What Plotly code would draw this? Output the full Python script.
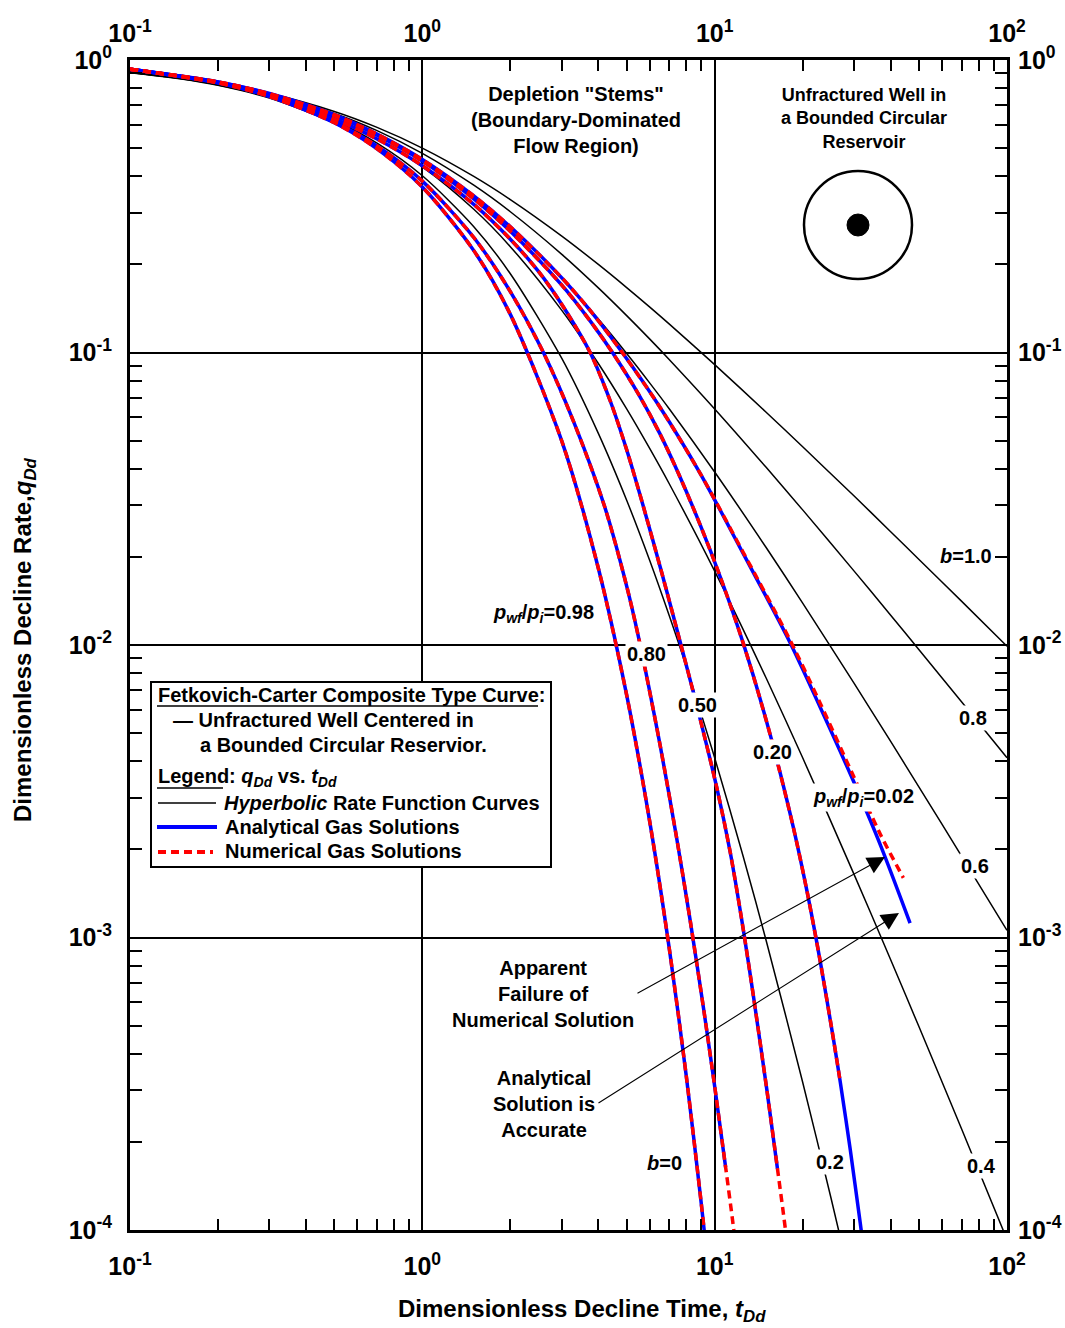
import plotly.graph_objects as go

# ---------------- data ----------------
# Hyperbolic (Arps) rate function curves, b = 0 ... 1.0
t_b00 = [0.1, 0.15, 0.2, 0.3, 0.5, 0.7, 1, 1.5, 2, 3, 4, 5, 6, 7, 8, 9, 9.5]
q_b00 = [0.905, 0.861, 0.819, 0.741, 0.607, 0.497, 0.368, 0.223, 0.135, 0.0498, 0.0183,
         0.00674, 0.00248, 0.000912, 0.000335, 0.000123, 0.0000749]

t_b02 = [0.1, 0.15, 0.2, 0.3, 0.5, 0.7, 1, 1.5, 2, 3, 4, 5, 6, 7, 8, 10, 12.5, 15, 20, 25, 30]
q_b02 = [0.9057, 0.8626, 0.8219, 0.7473, 0.6209, 0.5194, 0.4019, 0.2693, 0.1859, 0.0954,
         0.0529, 0.03125, 0.01941, 0.01256, 0.00843, 0.004115, 0.001904, 0.000977, 0.00032,
         0.0001286, 0.0000595]

t_hyp = [0.1, 0.15, 0.2, 0.3, 0.5, 0.7, 1, 1.5, 2, 3, 4, 5, 6, 7, 10, 15, 20, 30, 40, 50, 70, 100]
q_b04 = [0.9066, 0.8644, 0.8250, 0.7533, 0.6339, 0.5395, 0.4312, 0.3088, 0.2301, 0.1393, 0.0917,
         0.06415, 0.0469, 0.03552, 0.01789, 0.00771, 0.004115, 0.001641, 0.000839, 0.000495,
         0.000221, 0.0000928]
q_b06 = [0.9075, 0.8662, 0.8279, 0.7589, 0.6458, 0.5574, 0.4569, 0.3431, 0.2687, 0.1798, 0.1301,
         0.0992, 0.0786, 0.0641, 0.03904, 0.02154, 0.01391, 0.00739, 0.00468, 0.003269,
         0.001895, 0.001058]
q_b08 = [0.9083, 0.8679, 0.8307, 0.7642, 0.6567, 0.5736, 0.4796, 0.3732, 0.3029, 0.2166, 0.1663,
         0.1337, 0.1111, 0.09453, 0.06415, 0.04050, 0.02897, 0.01789, 0.01264, 0.009634,
         0.006384, 0.004115]
q_b10 = [0.9091, 0.8696, 0.8333, 0.7692, 0.6667, 0.5882, 0.5, 0.4, 0.3333, 0.25, 0.2, 0.1667,
         0.1429, 0.125, 0.0909, 0.0625, 0.0476, 0.0323, 0.0244, 0.0196, 0.0141, 0.0099]

# Gas solutions, pwf/pi = 0.98, 0.80, 0.50, 0.20, 0.02 (analytical = blue, numerical = red)
t_a098 = [0.1, 0.2, 0.3, 0.5, 0.7, 1, 1.5, 2, 3, 4, 5, 6, 7, 8, 9, 9.5]
q_a098 = [0.93, 0.835, 0.75, 0.61, 0.497, 0.368, 0.223, 0.135, 0.0498, 0.0183, 0.00674,
          0.00248, 0.000912, 0.000335, 0.000123, 0.0000749]
t_n098 = t_a098
q_n098 = q_a098

t_a080 = [0.1, 0.2, 0.3, 0.5, 0.7, 1, 1.5, 2, 2.6, 3.3, 4.2, 5, 5.5, 6.5, 7.4, 8.25, 9.2, 10, 10.9]
q_a080 = [0.93, 0.836, 0.752, 0.614, 0.508, 0.3855, 0.2472, 0.1615, 0.0996, 0.0577, 0.0298,
          0.0159, 0.01054, 0.00457, 0.00221, 0.00114, 0.000556, 0.00031, 0.000164]
t_n080 = t_a080 + [11.5, 11.8]
q_n080 = q_a080 + [0.000109, 0.0000887]

t_a050 = [0.1, 0.2, 0.3, 0.5, 0.7, 1, 1.5, 2, 2.5, 3, 3.75, 4.4, 5, 5.7, 6.6, 7.63, 8.72, 10.2,
          11.3, 12.5, 13.6, 15.1, 16.4]
q_a050 = [0.93, 0.838, 0.757, 0.628, 0.537, 0.435, 0.321, 0.244, 0.189, 0.146, 0.1, 0.068,
          0.0465, 0.0298, 0.01758, 0.0102, 0.00611, 0.00321, 0.00196, 0.00108, 0.000621,
          0.000299, 0.000162]
t_n050 = t_a050 + [17.2, 17.8]
q_n050 = q_a050 + [0.000113, 0.0000863]

t_a020 = [0.1, 0.2, 0.3, 0.5, 0.7, 1, 1.5, 2, 3, 3.755, 4.47, 5.5, 6.5, 7.5, 8.93, 10.5, 12.6,
          15.5, 18.6, 20.75, 23, 25.5, 26.9, 29.1, 31.5, 32.5]
q_a020 = [0.93, 0.841, 0.765, 0.645, 0.553, 0.451, 0.335, 0.2595, 0.170, 0.128, 0.1, 0.0718,
          0.0527, 0.0388, 0.0257, 0.01688, 0.00995, 0.00492, 0.00237, 0.00142, 0.000822,
          0.000448, 0.00032, 0.000188, 0.000105, 0.000083]
t_n020 = t_a020[:23]
q_n020 = q_a020[:23]

t_a002 = [0.1, 0.2, 0.3, 0.5, 0.7, 1, 1.5, 2, 3, 3.755, 4.83, 6.5, 8.91, 12.5, 18.1, 23, 29.7,
          36.9, 46.6]
q_a002 = [0.93, 0.842, 0.768, 0.65, 0.558, 0.457, 0.343, 0.269, 0.18, 0.139, 0.1, 0.065, 0.0387,
          0.0206, 0.0102, 0.0061, 0.00346, 0.00207, 0.00112]
t_n002 = [0.1, 0.2, 0.3, 0.5, 0.7, 1, 1.5, 2, 3, 3.755, 4.83, 6.5, 8.91, 12.5, 18.1, 23, 29.7,
          36.9, 44.2]
q_n002 = [0.93, 0.842, 0.768, 0.65, 0.558, 0.457, 0.343, 0.269, 0.18, 0.139, 0.1, 0.065, 0.0387,
          0.0208, 0.0104, 0.0063, 0.0036, 0.00225, 0.0016]

x_ticks = [0.1, 1, 10, 100]
x_ticktext = ["10<sup>-1</sup>", "10<sup>0</sup>", "10<sup>1</sup>", "10<sup>2</sup>"]
y_ticks = [1e-4, 1e-3, 1e-2, 1e-1, 1]
y_ticktext = ["10<sup>-4</sup>", "10<sup>-3</sup>", "10<sup>-2</sup>", "10<sup>-1</sup>", "10<sup>0</sup>"]
x_minor = [m * d for d in (0.1, 1, 10) for m in range(2, 10)]
y_minor = [m * d for d in (1e-4, 1e-3, 1e-2, 1e-1) for m in range(2, 10)]

# ---------------- figure ----------------
FONT = "Liberation Sans, Arial, sans-serif"
fig = go.Figure()

hyp = [(t_b00, q_b00), (t_b02, q_b02), (t_hyp, q_b04), (t_hyp, q_b06), (t_hyp, q_b08), (t_hyp, q_b10)]
for t, q in hyp:
    fig.add_trace(go.Scatter(x=t, y=q, mode="lines", hoverinfo="skip", showlegend=False,
                             line=dict(color="black", width=1.5, shape="spline", smoothing=0.8)))

analytical = [(t_a098, q_a098), (t_a080, q_a080), (t_a050, q_a050), (t_a020, q_a020), (t_a002, q_a002)]
numerical = [(t_n098, q_n098), (t_n080, q_n080), (t_n050, q_n050), (t_n020, q_n020), (t_n002, q_n002)]
for t, q in analytical:
    fig.add_trace(go.Scatter(x=t, y=q, mode="lines", hoverinfo="skip", showlegend=False,
                             line=dict(color="#0000ff", width=3.5, shape="spline", smoothing=0.8)))
for t, q in numerical:
    fig.add_trace(go.Scatter(x=t, y=q, mode="lines", hoverinfo="skip", showlegend=False,
                             line=dict(color="#ff0000", width=3.5, dash="8px,5px", shape="spline",
                                       smoothing=0.8)))

# invisible trace so the mirrored (top / right) axes are drawn
fig.add_trace(go.Scatter(x=[1], y=[0.01], xaxis="x2", yaxis="y2", mode="lines",
                         hoverinfo="skip", showlegend=False))

tickfont = dict(family=FONT, size=25, color="black")
minor_x = dict(tickvals=x_minor, ticks="inside", ticklen=11, tickwidth=2, tickcolor="black", showgrid=False)
minor_y = dict(tickvals=y_minor, ticks="inside", ticklen=12, tickwidth=2, tickcolor="black", showgrid=False)

fig.update_layout(
    width=1065, height=1328,
    margin=dict(l=130, r=58, t=60, b=98, autoexpand=False),
    paper_bgcolor="white", plot_bgcolor="white",
    font=dict(family=FONT, color="black"),
    showlegend=False,
    xaxis=dict(type="log", range=[-1, 2], tickvals=x_ticks, automargin=False,
               ticktext=["<b>%s</b>" % s for s in x_ticktext], tickfont=tickfont,
               ticks="", showgrid=True, gridcolor="black", gridwidth=1.5,
               showline=True, linecolor="black", linewidth=3, mirror=True, zeroline=False,
               minor=minor_x, ticklabelstandoff=12),
    yaxis=dict(type="log", range=[-4, 0], tickvals=y_ticks, automargin=False,
               ticktext=["<b>%s</b>" % s for s in y_ticktext], tickfont=tickfont,
               ticks="", showgrid=True, gridcolor="black", gridwidth=1.5,
               showline=True, linecolor="black", linewidth=3, mirror=True, zeroline=False,
               minor=minor_y, ticklabelstandoff=10),
    xaxis2=dict(type="log", range=[-1, 2], overlaying="x", side="top", anchor="y2", automargin=False,
                tickvals=x_ticks, ticktext=["<b>%s</b>" % s for s in x_ticktext], tickfont=tickfont,
                ticks="", showgrid=False, showline=False, zeroline=False,
                minor=minor_x, ticklabelstandoff=12),
    yaxis2=dict(type="log", range=[-4, 0], overlaying="y", side="right", anchor="x2", automargin=False,
                tickvals=y_ticks, ticktext=["<b>%s</b>" % s for s in y_ticktext], tickfont=tickfont,
                ticks="", showgrid=False, showline=False, zeroline=False,
                minor=minor_y, ticklabelstandoff=10),
)


def PX(x):
    return (x - 130) / 877.0


def PY(y):
    return (1230 - y) / 1170.0


annotations = []


def label(text, x, y, size=20, bg=None, xanchor="center"):
    d = dict(text=text, x=PX(x), y=PY(y), xref="paper", yref="paper", showarrow=False,
             xanchor=xanchor, yanchor="middle", font=dict(family=FONT, size=size, color="black"),
             borderpad=1)
    if bg:
        d["bgcolor"] = bg
    annotations.append(d)


# axis titles
label("<b>Dimensionless Decline Time, <i>t</i><sub><i>Dd</i></sub></b>", 582, 1310, size=24)
annotations.append(dict(text="<b>Dimensionless Decline Rate,<i>q</i><sub><i>Dd</i></sub></b>",
                        x=PX(24), y=PY(640), xref="paper", yref="paper", showarrow=False,
                        textangle=-90, xanchor="center", yanchor="middle",
                        font=dict(family=FONT, size=24, color="black")))

# curve labels
label("<b><i>b</i>=1.0</b>", 966, 556)
label("<b>0.8</b>", 973, 718, bg="white")
label("<b>0.6</b>", 975, 866, bg="white")
label("<b>0.4</b>", 981, 1166, bg="white")
label("<b>0.2</b>", 830, 1162, bg="white")
label("<b><i>b</i>=0</b>", 664, 1163)
label("<b><i>p</i><sub><i>wf</i></sub>/<i>p</i><sub><i>i</i></sub>=0.98</b>", 543, 613)
label("<b>0.80</b>", 646, 654, bg="white")
label("<b>0.50</b>", 697, 705, bg="white")
label("<b>0.20</b>", 772, 752, bg="white")
label("<b><i>p</i><sub><i>wf</i></sub>/<i>p</i><sub><i>i</i></sub>=0.02</b>", 863, 797, bg="white")

# region texts
label("<b>Depletion \"Stems\"<br>(Boundary-Dominated<br>Flow Region)</b>", 576, 120)
label("<b>Unfractured Well in<br>a Bounded Circular<br>Reservoir</b>", 864, 118, size=18)
label("<b>Apparent<br>Failure of<br>Numerical Solution</b>", 543, 994)
label("<b>Analytical<br>Solution is<br>Accurate</b>", 544, 1104)

# arrows
for tip, tail in [((885, 857), (636, 994)), ((899, 913), (597, 1104))]:
    annotations.append(dict(text="", x=PX(tip[0]), y=PY(tip[1]), xref="paper", yref="paper",
                            showarrow=True, ax=tail[0] - tip[0], ay=tail[1] - tip[1],
                            arrowhead=2, arrowsize=3.2, arrowwidth=1.1, arrowcolor="black"))

# custom legend texts
label("<b>Fetkovich-Carter Composite Type Curve:</b>", 156, 695, xanchor="left")
label("<b>\u2014 Unfractured Well Centered in</b>", 171, 720, xanchor="left")
label("<b>a Bounded Circular Reservior.</b>", 198, 745, xanchor="left")
label("<b>Legend: <i>q</i><sub><i>Dd</i></sub> vs. <i>t</i><sub><i>Dd</i></sub></b>", 156, 777, xanchor="left")
label("<b><i>Hyperbolic</i> Rate Function Curves</b>", 222, 803, xanchor="left")
label("<b>Analytical Gas Solutions</b>", 223, 827, xanchor="left")
label("<b>Numerical Gas Solutions</b>", 223, 851, xanchor="left")

shapes = []
# legend frame
shapes.append(dict(type="rect", xref="paper", yref="paper", x0=PX(151), x1=PX(551), y0=PY(867), y1=PY(682),
                   line=dict(color="black", width=2), fillcolor="white", layer="above"))
# underlines
shapes.append(dict(type="line", xref="paper", yref="paper", x0=PX(157), x1=PX(538), y0=PY(706), y1=PY(706),
                   line=dict(color="black", width=1.5)))
shapes.append(dict(type="line", xref="paper", yref="paper", x0=PX(157), x1=PX(223), y0=PY(788), y1=PY(788),
                   line=dict(color="black", width=1.5)))
# legend samples
shapes.append(dict(type="line", xref="paper", yref="paper", x0=PX(158), x1=PX(216), y0=PY(803), y1=PY(803),
                   line=dict(color="black", width=1.5)))
shapes.append(dict(type="line", xref="paper", yref="paper", x0=PX(157), x1=PX(217), y0=PY(827), y1=PY(827),
                   line=dict(color="#0000ff", width=4)))
shapes.append(dict(type="line", xref="paper", yref="paper", x0=PX(158), x1=PX(213), y0=PY(852), y1=PY(852),
                   line=dict(color="#ff0000", width=4, dash="8px,5px")))
# reservoir sketch
shapes.append(dict(type="circle", xref="paper", yref="paper", xsizemode="pixel", ysizemode="pixel",
                   xanchor=PX(858), yanchor=PY(225), x0=-54, x1=54, y0=-54, y1=54,
                   line=dict(color="black", width=2.5)))
shapes.append(dict(type="circle", xref="paper", yref="paper", xsizemode="pixel", ysizemode="pixel",
                   xanchor=PX(858), yanchor=PY(225), x0=-11, x1=11, y0=-11, y1=11,
                   line=dict(color="black", width=1), fillcolor="black"))

fig.update_layout(annotations=annotations, shapes=shapes)
fig.write_html("out.html")
